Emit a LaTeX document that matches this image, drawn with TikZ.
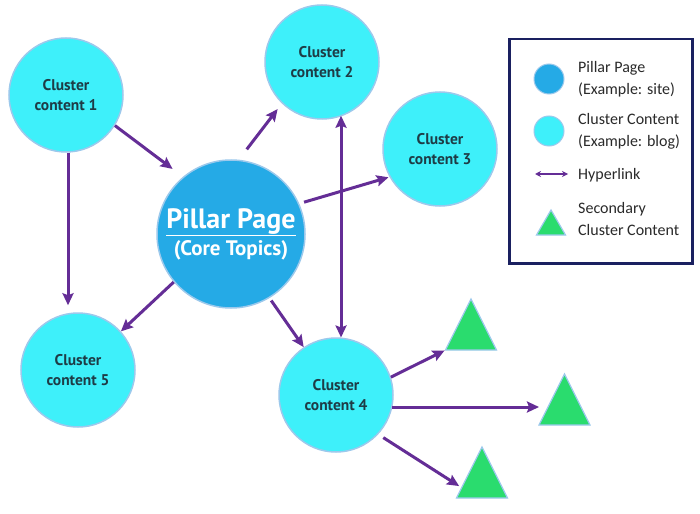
\documentclass[tikz,border=0pt]{standalone}
\usepackage{fontspec}
\setmainfont{Carlito}
\newfontfamily\clfont{PT Sans}
\usetikzlibrary{arrows.meta,shapes.geometric}
\definecolor{cyanfill}{HTML}{3EF0FA}
\definecolor{pillarfill}{HTML}{25AAE6}
\definecolor{glow}{HTML}{9CC9EC}
\definecolor{purp}{HTML}{642D96}
\definecolor{greenfill}{HTML}{2ADC6E}
\definecolor{txtdark}{HTML}{1E3C46}
\definecolor{navy}{HTML}{1A2060}
\definecolor{legtxt}{HTML}{2A2A2A}
\begin{document}
\begin{tikzpicture}[x=1pt,y=-1pt,
  cluster/.style={circle, fill=cyanfill, draw=glow, line width=1.5pt, minimum size=114pt, inner sep=0pt, align=center, font=\clfont\bfseries\fontsize{15.5}{19.5}\selectfont, text=txtdark},
  pillar/.style={circle, fill=pillarfill, draw=glow, line width=1.5pt, minimum size=148pt, inner sep=0pt, align=center, text=white, font=\clfont\bfseries},
  tri/.style={isosceles triangle, isosceles triangle stretches, shape border rotate=90, fill=greenfill, draw=glow, line width=1.2pt, inner sep=0pt, outer sep=0pt, minimum width=51pt, minimum height=51pt, anchor=lower side},
  link/.style={draw=purp, line width=3pt, -{Stealth[length=12pt,width=11pt,inset=2pt]}},
  legcirc/.style={circle, draw=glow, line width=1pt, minimum size=30pt, inner sep=0pt},
  legtext/.style={anchor=west, inner sep=0pt, font=\fontsize{16}{22}\selectfont, text=legtxt, align=left},
]
\useasboundingbox (0,0) rectangle (700,513);
\fill[white] (0,0) rectangle (700,513);

% nodes
\node[cluster] (c1) at (66,95) {Cluster\\content 1};
\node[cluster] (c2) at (322,62) {Cluster\\content 2};
\node[cluster] (c3) at (440,149) {Cluster\\content 3};
\node[cluster] (c5) at (78,370) {Cluster\\content 5};
\node[cluster] (c4) at (336,395) {Cluster\\content 4};
\node[pillar] (p) at (231,234) {{\fontsize{28}{32}\selectfont\underline{Pillar Page}}\\[3pt]{\fontsize{21}{26}\selectfont (Core Topics)}};

\node[tri] (t1) at (471,350) {};
\node[tri] (t2) at (564.5,425) {};
\node[tri] (t3) at (482,498) {};

% connectors
\draw[link] (c1.-32) -- (p.130) [shorten >=13pt];
\draw[link, shorten >=7pt] (c1.-88) -- (c1.-88 |- c5.north);
\draw[link, shorten <=13pt, shorten >=7pt] (p.84) -- (c2.-134);
\draw[link, shorten <=5pt, shorten >=1pt] (p.24) -- (c3.-151);
\draw[link] (p.-140) -- (c5.42);
\draw[link, shorten <=3pt] (p.-59) -- (c4.124);
\draw[link, {Stealth[length=12pt,width=11pt,inset=2pt]}-{Stealth[length=12pt,width=11pt,inset=2pt]}, shorten <=-4pt] (c4.85 |- c2.south) -- (c4.85);
\draw[link, shorten >=1pt] (c4.18) -- (t1.left corner);
\draw[link] (c4.-12) -- (c4.-12 -| t2.left corner);
\draw[link, shorten <=6pt, shorten >=3pt] (c4.-43) -- (t3.195);

% legend
\node[draw=navy, line width=2.5pt, minimum width=183pt, minimum height=224pt, anchor=north west, inner sep=0pt] (leg) at (508,38) {};
\node[legcirc, fill=pillarfill] (lp) at (549,79) {};
\node[legcirc, fill=cyanfill] (lc) at (549,131) {};
\coordinate (la) at (535,174);
\coordinate (lb) at (568,174);
\draw[draw=purp, line width=1.6pt, {Stealth[length=6pt,width=6pt]}-{Stealth[length=6pt,width=6pt]}] (la) -- (lb);
\node[tri, minimum width=29pt, minimum height=25pt] (lt) at (551,235) {};
\node[legtext] (l1) at (578,79) {Pillar Page\\(Example: site)};
\node[legtext] (l2) at (578,131) {Cluster Content\\(Example: blog)};
\node[legtext] (l3) at (578,175) {Hyperlink};
\node[legtext] (l4) at (578,219) {Secondary\\Cluster Content};
\end{tikzpicture}
\end{document}
